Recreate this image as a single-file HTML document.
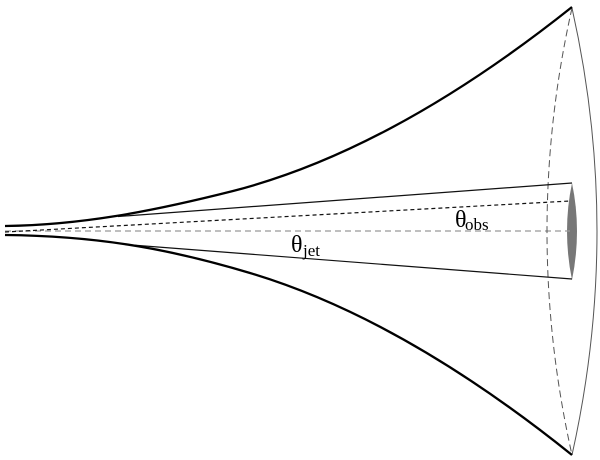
<!DOCTYPE html>
<html>
<head>
<meta charset="utf-8">
<style>
html,body{margin:0;padding:0;background:#fff}
svg{display:block}
text{font-family:"Liberation Serif",serif;fill:#000}
</style>
</head>
<body>
<svg width="600" height="460" viewBox="0 0 600 460" xmlns="http://www.w3.org/2000/svg">
<rect width="600" height="460" fill="#fff"/>
<path d="M572,183 Q562,231 572,280 Q582,231 572,183 Z" fill="#777"/>
<path d="M5,231 H570" fill="none" stroke="#999" stroke-width="1.2" stroke-dasharray="6 4"/>
<path d="M5,232 L570,201" fill="none" stroke="#111" stroke-width="1.2" stroke-dasharray="4 3"/>
<path d="M572,8 Q522,231 572,455" fill="none" stroke="#555" stroke-width="1" stroke-dasharray="7 4"/>
<path d="M572,8 Q622,231 572,455" fill="none" stroke="#555" stroke-width="1"/>
<path d="M118,216.5 L572,183" fill="none" stroke="#111" stroke-width="1.2"/>
<path d="M125,244.5 L572,279" fill="none" stroke="#111" stroke-width="1.2"/>
<path d="M5,226 C80,225 150,212 233,191 C346,162 459,97 572,7" fill="none" stroke="#000" stroke-width="2.3"/>
<path d="M5,235 C90,236 160,246 250,273 C357,305 465,369 572,455" fill="none" stroke="#000" stroke-width="2.3"/>
<text x="291" y="252" font-size="24">θ</text>
<text x="303" y="256" font-size="17">jet</text>
<text x="455" y="227" font-size="24">θ</text>
<text x="465" y="230" font-size="17">obs</text>
</svg>
</body>
</html>
